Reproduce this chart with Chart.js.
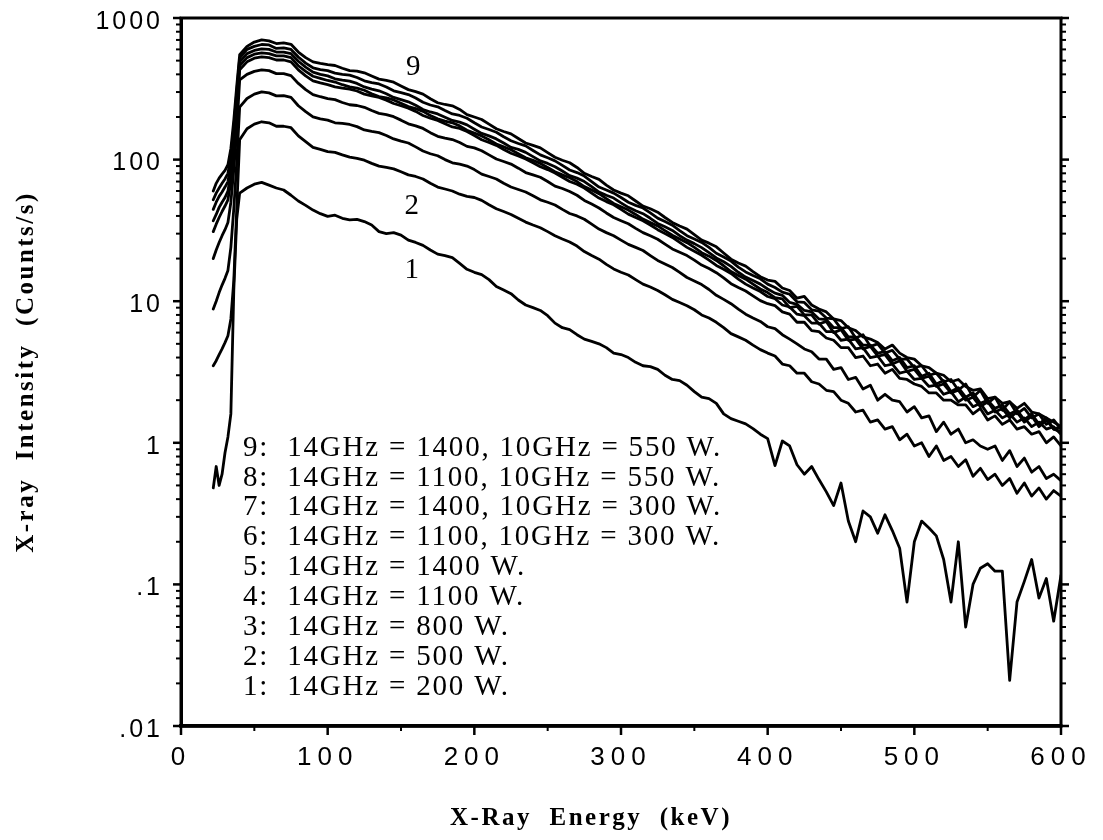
<!DOCTYPE html>
<html><head><meta charset="utf-8">
<script src="https://cdn.jsdelivr.net/npm/chart.js@4.4.0/dist/chart.umd.min.js"></script>
<style>html,body{margin:0;padding:0;background:#fff;}canvas{display:block;}</style>
</head><body>
<canvas id="c" width="1103" height="840"></canvas>
<script>
// X-ray energy grid (keV): 22..38 step 2, then 40..600 step 5
const energy = [22,24,26,28,30,32,34,36,38,
40,45,50,55,60,65,70,75,80,85,90,95,100,
105,110,115,120,125,130,135,140,145,150,155,160,165,170,175,180,185,190,195,200,
205,210,215,220,225,230,235,240,245,250,255,260,265,270,275,280,285,290,295,300,
305,310,315,320,325,330,335,340,345,350,355,360,365,370,375,380,385,390,395,400,
405,410,415,420,425,430,435,440,445,450,455,460,465,470,475,480,485,490,495,500,
505,510,515,520,525,530,535,540,545,550,555,560,565,570,575,580,585,590,595,600];

// Counts/s for each spectrum (1 = lowest power ... 9 = highest)
const curve1 = [0.48,0.68,0.5,0.6,0.85,1.1,1.6,12,38,
58,63,67,69,66,63,61,56,51,47.5,44,41.5,39.7,
40.5,38.5,37.5,37.8,36.5,34.5,31,30,30.5,29.3,27,26,24.8,23,21.5,21,20.3,18.5,16.8,16,
15.4,14.2,12.7,12,11.3,10.2,9.4,9.0,8.6,7.9,7.0,6.5,6.3,5.8,5.4,5.2,5.0,4.7,4.3,4.2,
4.0,3.7,3.5,3.45,3.3,3.0,2.8,2.75,2.55,2.3,2.1,2.05,1.9,1.6,1.48,1.42,1.36,1.26,1.15,1.07,
0.69,1.03,0.95,0.7,0.6,0.68,0.55,0.45,0.36,0.52,0.28,0.2,0.33,0.3,0.23,0.31,0.24,0.18,0.075,0.2,
0.28,0.25,0.22,0.15,0.075,0.2,0.05,0.1,0.13,0.14,0.124,0.124,0.021,0.075,0.105,0.15,0.08,0.11,0.055,0.116];
const curve2 = [3.5,3.8,4.2,4.6,5.1,5.7,7.5,14,45,
138,165,178,185,182,172,172,168,147,134,122,118,114,
112.5,108,104,102,99,94,90,88,86,82,78,76,73,68,64,62,60,57,55,54,
51.5,48,45,43,41,38.5,36.2,34.5,33,31,29,27.5,26.2,24.5,22.4,21,19.8,18.2,16.9,16,
15.3,14.2,13.2,12.6,11.9,11.1,10.3,9.8,9.3,8.7,8.0,7.6,7.1,6.5,5.9,5.6,5.3,4.9,4.55,4.3,
4.1,3.6,3.5,3.1,3.1,2.7,2.6,2.35,2.3,2.0,1.9,1.65,1.7,1.4,1.45,1.25,1.3,1.05,1.15,0.95,
1.0,0.8,0.95,0.75,0.8,0.68,0.76,0.58,0.66,0.55,0.6,0.5,0.56,0.44,0.52,0.42,0.48,0.4,0.46,0.42];
const curve3 = [8.8,10,11.5,13,14.5,16.5,24,45,95,
235,270,290,301,296,282,283,275,240,218,200,194,190,
182,180,177,171,162,158,155,148,140,135,131,123,115,110,106.5,100,95,93,90,85,
79,76,73,68,64,61.5,59,55.5,52,50,47.8,44.5,41.6,40,37.9,35,32.3,30.5,29,27,
25.2,24,22.8,21,19.4,18.3,17.3,16,14.7,13.9,13.1,12.1,11.0,10.3,9.6,8.8,8.1,7.6,7.2,6.6,
6.4,5.8,5.4,5.0,4.6,4.4,3.9,3.9,3.3,3.4,2.8,2.9,2.4,2.55,2.0,2.2,2.0,1.95,1.65,1.8,
1.5,1.55,1.2,1.4,1.15,1.25,1.0,1.05,0.95,0.9,0.95,0.75,0.88,0.68,0.78,0.62,0.68,0.56,0.6,0.54];
const curve4 = [20,23,26,29,32,36,50,85,160,
365,400,420,430,425,405,405,392,345,312,288,278,270,
265,253,244,241,234,222,212,208,201,190,179,173,166,155,146,142,138.5,132,124,121,
115.5,108,101,97,93,87,81,78,75,70,65,62.5,59.5,56,51.5,48.5,45.5,42,39,37,
35.2,32.7,30.5,29,27.4,25.3,23.4,22.2,21,19.5,18,17,15.9,14.6,13.3,12.5,11.8,10.9,10.1,9.6,
9.3,8.4,8.1,7.1,7.1,6.2,6.1,5.5,5.3,4.7,4.7,4.0,4.1,3.5,3.6,3.1,3.3,2.85,2.8,2.6,
2.5,2.25,2.25,2.0,2.0,1.85,1.85,1.6,1.75,1.45,1.55,1.35,1.45,1.25,1.3,1.15,1.2,1.0,1.1,0.95];
const curve5 = [31,35,39,43,47,52,70,115,215,
430,490,520,531,525,505,505,490,430,390,360,348,338,
326,320,315,305,290,282,275,263,249,240,231,219,205,196,189,179,170,166,158,148,
138,132,126,118,111,106,101,95,89,85,80.5,75,70,67,63,58,53.5,50.5,48,44.5,
41.2,39,37,34.5,32,30,28.2,26,24,22.5,21.1,19.5,17.9,16.8,15.7,14.3,13.2,12.4,11.7,10.8,
10.4,9.4,9.1,8.1,7.9,7.0,7.0,6.1,6.1,5.3,5.4,4.6,4.7,4.0,4.1,3.5,3.6,3.1,3.2,2.8,
2.85,2.5,2.55,2.2,2.3,1.95,2.1,1.8,1.9,1.6,1.7,1.5,1.6,1.4,1.5,1.3,1.4,1.25,1.3,1.15];
const curve6 = [37,41,46,50,54,60,80,130,240,
460,525,555,567,560,540,540,525,460,420,388,375,362,
353,338,326,320,309,292,279,273,264,250,237,229,219,205,194,187,182,173,161,154,
147,138,129,123,117.5,110,103,99,94,88,82,78,74.5,70,64.5,61,57.5,53,49,46.5,
44,41,38,36,34,31.5,29.2,27.5,25.9,24,22,20.8,19.4,17.8,16.2,15.2,14.3,13.2,12.2,11.5,
10.6,10.4,9.0,9.2,8.0,8.0,6.9,7.2,6.0,6.3,5.3,5.4,4.6,4.8,4.1,4.2,3.6,3.8,3.2,3.3,
2.85,2.95,2.5,2.6,2.25,2.35,2.0,2.1,1.8,1.95,1.65,1.75,1.5,1.65,1.4,1.55,1.3,1.45,1.25,1.3];
const curve7 = [44.5,50,55,59,64,70,92,150,270,
490,560,590,605,600,575,575,560,495,450,415,400,390,
372,364,358,345,326,315,306,292,275,265,256,242,226,217,210,199,189,184,176,164,
153,147,140,131,122,118,112.5,105,98,94,89,83,77,74,70,64.5,59,56,53.5,49.5,
46,43.5,41.5,38.5,35.4,33.5,31.6,29,27,25.5,23.9,22,20.2,19,17.6,16,14.8,14,13.2,12.2,
11.4,11.0,9.8,9.5,8.6,8.4,7.5,7.4,6.5,6.5,5.6,5.6,4.9,4.9,4.3,4.4,3.8,4.0,3.4,3.5,
2.95,3.1,2.6,2.75,2.3,2.45,2.1,2.25,1.9,2.0,1.75,1.85,1.6,1.7,1.45,1.6,1.35,1.5,1.25,1.2];
const curve8 = [52,58,63,68,73,80,105,170,300,
520,600,630,650,645,610,615,600,530,480,445,432,425,
408,400,395,380,360,350,342,326,306,297,288,272,254,243,236,222,210,205,196,182,
170,163,156,145,136,130,125,116,108,103,98,91,84.5,81,76.5,70,64,61,58,54,
50,47.5,45.5,42,38.6,36.5,34.4,31.5,29,27.5,26,24,21.8,20.5,19.2,17.4,16.1,15.2,14.4,13.2,
12.5,11.6,11.2,9.9,9.8,8.7,8.5,7.6,7.5,6.4,6.6,5.5,5.8,4.8,5.0,4.3,4.5,3.9,3.9,3.4,
3.5,3.0,3.1,2.7,2.8,2.35,2.6,2.1,2.35,1.9,2.1,1.7,1.95,1.6,1.75,1.5,1.6,1.35,1.45,1.25];
const curve9 = [60,68,74,79,84,92,120,190,330,
550,630,676,700,690,660,668,652,575,525,490,478,468,
462,442,425,422,410,389,370,363,352,331,312,302,290,269,252,245,240,226,208,200,
192,178,165,158,152,141,131,126,121,112,104,99,95,88,80,76,72.5,66,61,58,
55.5,51,47,45,42.5,39,36,34,32.3,29.5,27,25.7,24.2,21.9,19.8,18.6,17.7,16.2,14.9,14.1,
13.8,12.4,11.9,10.5,10.8,9.4,8.8,8.4,7.5,7.3,6.5,6.2,5.6,5.4,5.1,4.6,4.9,4.3,4.0,3.9,
3.5,3.4,3.1,3.0,2.7,2.8,2.5,2.35,2.4,2.05,2.1,1.9,1.95,1.75,1.9,1.65,1.6,1.5,1.4,1.3];

const curves = [curve1,curve2,curve3,curve4,curve5,curve6,curve7,curve8,curve9];
const seriesNames = ['1','2','3','4','5','6','7','8','9'];

const xTickValues = [0,100,200,300,400,500,600];
const xTickLabels = ['0','100','200','300','400','500','600'];
const yTickValues = [0.01,0.1,1,10,100,1000];
const yTickLabels = ['.01','.1','1','10','100','1000'];

const legendLines = [
 '9:  14GHz = 1400, 10GHz = 550 W.',
 '8:  14GHz = 1100, 10GHz = 550 W.',
 '7:  14GHz = 1400, 10GHz = 300 W.',
 '6:  14GHz = 1100, 10GHz = 300 W.',
 '5:  14GHz = 1400 W.',
 '4:  14GHz = 1100 W.',
 '3:  14GHz = 800 W.',
 '2:  14GHz = 500 W.',
 '1:  14GHz = 200 W.'
];
const curveTagText = ['9','2','1'];
const curveTagEnergy = [159,158,158];
const curveTagCounts = [450,47,16.5];

const xTitle = 'X-Ray  Energy  (keV)';
const yTitle = 'X-ray  Intensity  (Counts/s)';

const datasets = curves.map((vals,k)=>({
  label: seriesNames[k],
  data: energy.map((e,i)=>({x:e,y:vals[i]})),
  borderColor:'#000', backgroundColor:'#000', borderWidth:2.8,
  pointRadius:0, tension:0, fill:false,
  borderJoinStyle:'round', borderCapStyle:'round'
}));

const decorPlugin = {
  id:'decor',
  beforeLayout(chart){
    for (const id of ['x','y']) {
      const s = chart.scales[id];
      if (s && !s._lsWrapped) {
        const proto = Object.getPrototypeOf(s);
        const sp = id === 'x' ? '6px' : '3px';
        s.draw = function(area){ const ctx=this.ctx; ctx.save(); ctx.letterSpacing = sp; proto.draw.call(this, area); ctx.restore(); };
        s._lsWrapped = true;
      }
    }
  },
  beforeDraw(chart){
    const ctx = chart.ctx;
    ctx.save(); ctx.fillStyle='#fff'; ctx.fillRect(0,0,chart.width,chart.height); ctx.restore();
  },
  afterDraw(chart){
    const ctx = chart.ctx, a = chart.chartArea, xs = chart.scales.x, ys = chart.scales.y;
    ctx.save();
    ctx.strokeStyle='#000'; ctx.lineCap='butt';
    // frame
    ctx.lineWidth=3;
    ctx.beginPath(); ctx.moveTo(a.left-1.5,a.top); ctx.lineTo(a.right+1.5,a.top); ctx.stroke();
    ctx.beginPath(); ctx.moveTo(a.right,a.top); ctx.lineTo(a.right,a.bottom); ctx.stroke();
    ctx.beginPath(); ctx.moveTo(a.left,a.top); ctx.lineTo(a.left,a.bottom); ctx.stroke();
    ctx.lineWidth=3.5;
    ctx.beginPath(); ctx.moveTo(a.left-1.5,a.bottom); ctx.lineTo(a.right+1.5,a.bottom); ctx.stroke();
    // y ticks (left & right, outward)
    for (let d=-2; d<=3; d++) {
      for (let m=1; m<=9; m++) {
        const v = m*Math.pow(10,d);
        if (v>1000.001) continue;
        const y = ys.getPixelForValue(v);
        const major = m===1;
        ctx.lineWidth = major?2.5:2;
        const L = major?8:5;
        ctx.beginPath(); ctx.moveTo(a.left,y); ctx.lineTo(a.left-L,y); ctx.stroke();
        ctx.beginPath(); ctx.moveTo(a.right,y); ctx.lineTo(a.right+L,y); ctx.stroke();
      }
    }
    // x ticks (bottom, outward)
    for (let e=0; e<=600; e+=50) {
      const x = xs.getPixelForValue(e);
      const major = e%100===0;
      ctx.lineWidth = major?2.5:2;
      ctx.beginPath(); ctx.moveTo(x,a.bottom); ctx.lineTo(x,a.bottom+(major?9:5)); ctx.stroke();
    }
    // legend text
    ctx.fillStyle='#000';
    ctx.font='29px "Liberation Serif", "Times New Roman", serif';
    ctx.letterSpacing='1.8px';
    ctx.textAlign='left'; ctx.textBaseline='middle';
    legendLines.forEach((t,i)=>{ ctx.fillText(t, a.left+62, a.top+430+i*29.9); });
    // curve tags
    ctx.textAlign='center';
    curveTagText.forEach((t,i)=>{
      ctx.fillText(t, xs.getPixelForValue(curveTagEnergy[i]), ys.getPixelForValue(curveTagCounts[i]));
    });
    // axis titles
    ctx.font='bold 25px "Liberation Serif", "Times New Roman", serif';
    ctx.letterSpacing='2.5px';
    ctx.textAlign='center'; ctx.textBaseline='middle';
    ctx.fillText(xTitle, 591, 819);
    ctx.translate(27, (a.top+a.bottom)/2);
    ctx.rotate(-Math.PI/2);
    ctx.fillText(yTitle, 0, 0);
    ctx.restore();
  }
};

new Chart(document.getElementById('c'), {
  type:'line',
  data:{datasets},
  plugins:[decorPlugin],
  options:{
    responsive:false, animation:false, devicePixelRatio:1,
    layout:{padding:{left:0, top:18, right:42, bottom:0}},
    plugins:{legend:{display:false}, tooltip:{enabled:false}, title:{display:false}},
    scales:{
      x:{type:'linear', position:'bottom', min:0, max:600,
        afterFit(s){ s.height=114; s.paddingLeft=0; s.paddingRight=0; },
        afterBuildTicks(s){ s.ticks = xTickValues.map(v=>({value:v})); },
        ticks:{callback:(v,i)=>xTickLabels[i], color:'#000', font:{family:'"Liberation Sans", Arial, sans-serif', size:26}, padding:16, maxRotation:0, autoSkip:false},
        grid:{display:false, drawTicks:false},
        border:{display:true, color:'#000', width:3.5}},
      y:{type:'logarithmic', position:'left', min:0.01, max:1000,
        afterFit(s){ s.width=181; s.paddingTop=0; s.paddingBottom=0; },
        afterBuildTicks(s){ s.ticks = yTickValues.map(v=>({value:v, major:true})); },
        ticks:{callback:(v,i)=>yTickLabels[i], color:'#000', font:{family:'"Liberation Sans", Arial, sans-serif', size:25}, padding:18, labelOffset:4, autoSkip:false},
        grid:{display:false, drawTicks:false},
        border:{display:true, color:'#000', width:3}}
    }
  }
});
</script>
</body></html>
